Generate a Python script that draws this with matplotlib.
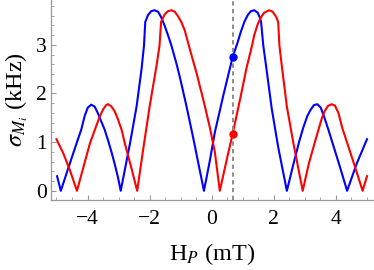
import numpy as np
from matplotlib import pyplot as plt
from matplotlib.ticker import MultipleLocator

####################################
### Data
####################################

blue_x = [-4.98, -4.86, -4.57, -4.35, -4.20, -4.09, -3.99, -3.88, -3.77, -3.67, -3.56,
          -3.45, -3.33, -3.22, -3.12, -3.02, -2.93, -2.63, -2.42, -2.26, -2.18, -2.14,
          -2.05, -1.95, -1.84, -1.73, -1.63, -1.52, -1.41, -1.30, -1.13, -1.02, -0.81,
          -0.60, -0.40, -0.25, -0.06, 0.10, 0.37, 0.67, 0.83, 0.94, 1.05, 1.16, 1.26,
          1.37, 1.48, 1.55, 1.59, 1.66, 1.76, 1.93, 2.14, 2.42, 2.62, 2.82, 2.95, 3.08,
          3.19, 3.29, 3.40, 3.51, 3.61, 3.72, 3.77, 4.13, 4.36, 4.67, 5.00]
blue_y = [0.30, 0.00, 0.56, 0.98, 1.26, 1.54, 1.71, 1.77, 1.73, 1.60, 1.43,
          1.26, 1.02, 0.78, 0.54, 0.28, 0.00, 0.98, 1.73, 2.50, 2.99, 3.47,
          3.61, 3.69, 3.71, 3.68, 3.57, 3.40, 3.20, 2.99, 2.60, 2.32, 1.73,
          1.10, 0.47, 0.00, 0.62, 1.20, 1.95, 2.74, 3.04, 3.27, 3.47, 3.61, 3.69,
          3.71, 3.66, 3.56, 3.47, 2.99, 2.52, 1.70, 0.90, 0.00, 0.52, 1.02, 1.30, 1.54,
          1.67, 1.76, 1.78, 1.71, 1.54, 1.33, 1.23, 0.49, 0.00, 0.56, 1.06]

red_x = [-5.00, -4.78, -4.57, -4.34, -4.13, -3.92, -3.72, -3.61, -3.50, -3.40, -3.34,
         -3.24, -3.13, -3.02, -2.90, -2.80, -2.58, -2.40, -2.21, -2.00, -1.77, -1.68,
         -1.63, -1.52, -1.41, -1.30, -1.19, -1.09, -0.98, -0.87, -0.70, -0.49, -0.27,
         -0.06, 0.10, 0.18, 0.26, 0.48, 0.67, 0.91, 1.12, 1.30, 1.37, 1.48, 1.58, 1.69,
         1.85, 1.96, 2.07, 2.14, 2.18, 2.26, 2.42, 2.63, 2.93, 3.12, 3.33, 3.45, 3.55,
         3.64, 3.74, 3.86, 3.97, 4.08, 4.20, 4.57, 4.86, 5.00]
red_y = [1.06, 0.77, 0.43, 0.00, 0.49, 0.98, 1.33, 1.52, 1.67, 1.76, 1.78,
         1.74, 1.64, 1.47, 1.25, 0.98, 0.45, 0.00, 0.84, 1.73, 2.60, 2.99,
         3.47, 3.62, 3.69, 3.71, 3.68, 3.59, 3.47, 3.30, 2.90, 2.42, 1.87,
         1.30, 0.80, 0.40, 0.00, 0.63, 1.16, 1.87, 2.52, 2.99, 3.20, 3.42, 3.56, 3.66,
         3.71, 3.68, 3.58, 3.47, 2.99, 2.55, 1.73, 0.98, 0.00, 0.54, 1.02, 1.28, 1.50,
         1.64, 1.74, 1.78, 1.75, 1.60, 1.30, 0.58, 0.00, 0.30]

h_mark = 0.67            ### position of the dashed line
blue_mark = 2.75
red_mark = 1.16

xticks = [-4, -2, 0, 2, 4]
yticks = [0, 1, 2, 3]

######################
### Style
#####################

plt.rcParams['font.family'] = ['Liberation Serif', 'DejaVu Serif']
plt.rcParams['mathtext.fontset'] = 'stix'
plt.rcParams['axes.unicode_minus'] = True

fig = plt.figure(figsize=(3.74, 2.70), dpi=100)
ax = fig.add_axes([0.136, 0.259, 0.861, 0.741])

######################
### Curves, dashed marker line and points
#####################

ax.plot(blue_x, blue_y, color=(0, 0, 1), lw=1.5, solid_joinstyle="round")
ax.plot(red_x, red_y, color=(1, 0, 0), lw=1.5, solid_joinstyle="round")
ax.axvline(h_mark, color="#8c8c8c", lw=1.4, ls=(0, (2.2, 1.8)))
ax.plot([h_mark], [blue_mark], "o", color=(0, 0, 1), ms=5, zorder=5)
ax.plot([h_mark], [red_mark], "o", color=(1, 0, 0), ms=5, zorder=5)

######################
### Axes
#####################

ax.set_xlim(-5.18, 5.19)
ax.set_ylim(-0.19, 3.92)

for side in ["top", "right"]:
    ax.spines[side].set_visible(False)
for side in ["left", "bottom"]:
    ax.spines[side].set_color("#999999")
    ax.spines[side].set_linewidth(0.9)

ax.set_xticks(xticks)
ax.set_yticks(yticks)
ax.xaxis.set_minor_locator(MultipleLocator(0.5))
ax.yaxis.set_minor_locator(MultipleLocator(0.2))
ax.tick_params(which="both", direction="in", color="#999999", labelsize=15.5)
ax.tick_params(which="major", length=3.5, width=0.8)
ax.tick_params(which="minor", length=2, width=0.6)
ax.tick_params(axis="x", pad=7)
ax.tick_params(axis="y", pad=3)

ax.set_xlabel(r"H$_P$ (mT)", fontsize=17.5, labelpad=9)
ax.set_ylabel(r"$\sigma_{M_i}$ (kHz)", fontsize=17.5, labelpad=4)

plt.savefig("out.png", dpi=100)
